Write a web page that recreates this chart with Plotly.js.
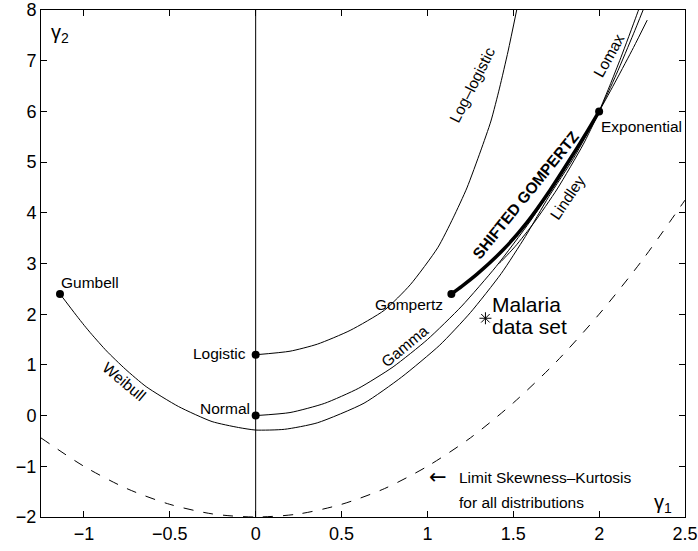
<!DOCTYPE html>
<html>
<head>
<meta charset="utf-8">
<script src="https://cdn.plot.ly/plotly-3.0.1.min.js"></script>
<style>html,body{margin:0;padding:0;background:#fff;}#chart{width:698px;height:551px;}</style>
</head>
<body>
<div id="chart"></div>
<script>
// ---- data ----
const axisLineX = [0, 0];
const axisLineY = [-2, 8];

const limitX = [-1.25, -1, -0.75, -0.5, -0.25, 0, 0.25, 0.5, 0.75, 1, 1.25, 1.5, 1.75, 2, 2.25, 2.5];
const limitY = [-0.44, -1, -1.44, -1.75, -1.94, -2, -1.94, -1.75, -1.44, -1, -0.44, 0.25, 1.06, 2, 3.06, 4.25];

const gammaX = [0, 0.2, 0.4, 0.6, 0.8, 1.0, 1.2, 1.4, 1.6, 1.8, 2.0, 2.1, 2.2, 2.28];
const gammaY = [0, 0.06, 0.24, 0.54, 0.96, 1.5, 2.16, 2.94, 3.84, 4.86, 6.0, 6.62, 7.26, 7.80];

const logLogisticX = [0, 0.2, 0.36, 0.55, 0.75, 0.9, 1.06, 1.15, 1.23, 1.31, 1.37, 1.42, 1.47, 1.52];
const logLogisticY = [1.2, 1.27, 1.41, 1.68, 2.08, 2.58, 3.31, 3.9, 4.49, 5.22, 5.81, 6.46, 7.19, 8.0];

const weibullX = [-1.1395, -1.045, -0.9985, -0.954, -0.868, -0.76, -0.6376, -0.45, -0.254, -0.1, 0.0, 0.168, 0.3586, 0.631, 0.85, 1.072, 1.25, 1.4295, 1.57, 1.707, 1.85, 2.0, 2.1, 2.2, 2.256];
const weibullY = [2.4, 1.98, 1.78, 1.60, 1.274, 0.92, 0.5705, 0.18, -0.118, -0.235, -0.285, -0.2705, -0.143, 0.245, 0.76, 1.39, 2.03, 2.80, 3.53, 4.32, 5.07, 6.0, 6.73, 7.53, 8.0];

const lomaxX = [2.0, 2.0615, 2.1264, 2.2184, 2.2671];
const lomaxY = [6.0, 6.504, 7.06, 7.897, 8.363];

const lindleyX = [1.414, 1.423, 1.512, 1.62, 1.756, 1.906, 1.989, 2.0];
const lindleyY = [3.0, 3.02, 3.34, 3.80, 4.47, 5.34, 5.91, 6.0];

const shiftedGompertzX = [1.1395, 1.2, 1.289, 1.444, 1.58, 1.715, 1.831, 1.928, 2.0];
const shiftedGompertzY = [2.4, 2.55, 2.79, 3.28, 3.81, 4.45, 5.06, 5.59, 6.0];

const pointNames = ["Gumbell", "Logistic", "Normal", "Gompertz", "Exponential"];
const pointX = [-1.1395, 0, 0, 1.1395, 2.0];
const pointY = [2.4, 1.2, 0, 2.4, 6.0];

const malariaX = [1.338];
const malariaY = [1.92];

const xTicks = [-1, -0.5, 0, 0.5, 1, 1.5, 2, 2.5];
const yTicks = [-2, -1, 0, 1, 2, 3, 4, 5, 6, 7, 8];

// ---- traces ----
const FONT = "Liberation Sans, Arial, Helvetica, sans-serif";
const thin = {color: "black", width: 1};
function curve(x, y, line) {
  return {x: x, y: y, type: "scatter", mode: "lines", line: line, hoverinfo: "skip"};
}
const traces = [
  curve(axisLineX, axisLineY, thin),
  curve(limitX, limitY, {color: "black", width: 1, dash: "10px,10px", shape: "spline", smoothing: 0.8}),
  curve(gammaX, gammaY, {color: "black", width: 1, shape: "spline", smoothing: 0.6}),
  curve(logLogisticX, logLogisticY, {color: "black", width: 1, shape: "spline", smoothing: 0.6}),
  curve(weibullX, weibullY, {color: "black", width: 1, shape: "spline", smoothing: 0.6}),
  curve(lomaxX, lomaxY, {color: "black", width: 1, shape: "spline", smoothing: 0.6}),
  curve(lindleyX, lindleyY, {color: "black", width: 1, shape: "spline", smoothing: 0.6}),
  curve(shiftedGompertzX, shiftedGompertzY, {color: "black", width: 3.5, shape: "spline", smoothing: 0.6}),
  {x: pointX, y: pointY, text: pointNames, type: "scatter", mode: "markers",
   marker: {color: "black", size: 8}, hoverinfo: "text"},
  {x: malariaX, y: malariaY, type: "scatter", mode: "markers",
   marker: {symbol: "asterisk-open", size: 10, color: "black", line: {color: "black", width: 1}}, hoverinfo: "skip"}
];

function label(text, x, y, opts) {
  return Object.assign({text: text, x: x, y: y, xref: "x", yref: "y", showarrow: false,
    font: {family: FONT, size: 15.5, color: "black"}, xanchor: "center", yanchor: "middle"}, opts || {});
}

const annotations = [
  label("Gumbell", -1.148, 2.62, {xanchor: "left"}),
  label("Logistic", -0.045, 1.22, {xanchor: "right"}),
  label("Normal", -0.02, 0.14, {xanchor: "right"}),
  label("Gompertz", 1.105, 2.185, {xanchor: "right"}),
  label("Exponential", 2.0, 5.70, {xanchor: "left"}),
  label("Weibull", -0.765, 0.675, {textangle: 40}),
  label("Gamma", 0.872, 1.378, {textangle: -40}),
  label("Log–logistic", 1.262, 6.53, {textangle: -63}),
  label("Lomax", 2.055, 7.11, {textangle: -61}),
  label("Lindley", 1.816, 4.30, {textangle: -56}),
  label("<b>SHIFTED GOMPERTZ</b>", 1.574, 4.36, {textangle: -51}),
  label("Malaria", 1.366, 2.19, {xanchor: "left", font: {family: FONT, size: 21, color: "black"}}),
  label("data set", 1.366, 1.76, {xanchor: "left", font: {family: FONT, size: 21, color: "black"}}),
  label("←", 1.064, -1.22, {font: {family: "DejaVu Sans, sans-serif", size: 21, color: "black"}}),
  label("Limit Skewness–Kurtosis", 1.174, -1.22, {xanchor: "left"}),
  label("for all distributions", 1.174, -1.71, {xanchor: "left"}),
  label("γ<sub>2</sub>", -1.203, 7.53, {xanchor: "left", font: {family: FONT, size: 20, color: "black"}}),
  label("γ<sub>1</sub>", 2.308, -1.73, {xanchor: "left", font: {family: FONT, size: 20, color: "black"}})
];

const axisCommon = {
  showgrid: false, zeroline: false, showline: true, linecolor: "black", linewidth: 1,
  mirror: "ticks", ticks: "inside", ticklen: 6, tickwidth: 1, tickcolor: "black",
  tickfont: {family: FONT, size: 18, color: "black"}, fixedrange: true,
  ticklabeloverflow: "allow"
};

const layout = {
  width: 698, height: 551,
  margin: {l: 41, r: 13, t: 10, b: 34, pad: 0},
  paper_bgcolor: "white", plot_bgcolor: "white",
  showlegend: false,
  xaxis: Object.assign({}, axisCommon, {range: [-1.25, 2.5], tickmode: "array", tickvals: xTicks}),
  yaxis: Object.assign({}, axisCommon, {range: [-2, 8], tickmode: "array", tickvals: yTicks}),
  annotations: annotations
};

Plotly.newPlot("chart", traces, layout, {displayModeBar: false, staticPlot: true});
</script>
</body>
</html>
